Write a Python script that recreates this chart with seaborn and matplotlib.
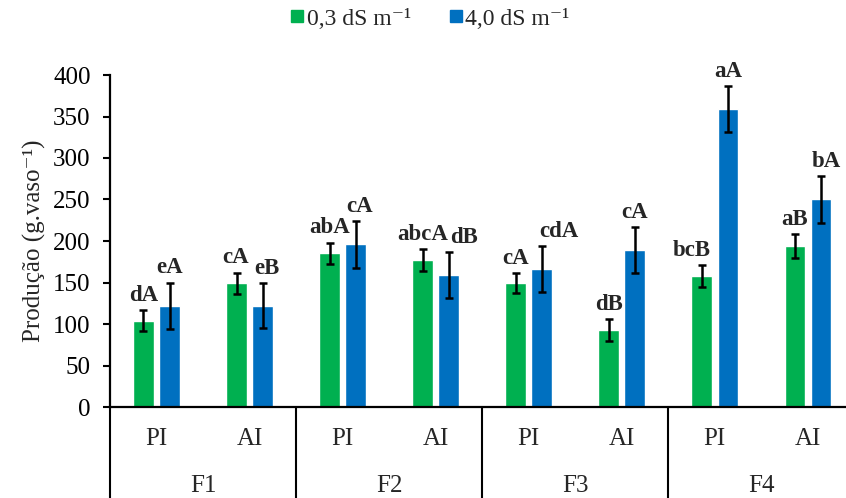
import matplotlib
matplotlib.use("Agg")
import matplotlib.pyplot as plt
from matplotlib.lines import Line2D
import matplotlib.transforms as mtransforms
import seaborn as sns
import pandas as pd

# ---- data ----
factors = ["F1", "F2", "F3", "F4"]
methods = ["PI", "AI"]
series_names = ["0,3 dS m⁻¹", "4,0 dS m⁻¹"]
low_salt = [104, 149, 185, 177, 149, 93, 158, 194]
high_salt = [122, 122, 196, 159, 166, 189, 359, 250]
low_err = [13, 13, 13, 13, 12, 13, 13, 14]
high_err = [28, 27, 28, 28, 28, 28, 28, 28]
low_letters = ["dA", "cA", "abA", "abcA", "cA", "dB", "bcB", "aB"]
high_letters = ["eA", "eB", "cA", "dB", "cdA", "cA", "aA", "bA"]
y_ticks = [0, 50, 100, 150, 200, 250, 300, 350, 400]

cats = [f"{f}-{m}" for f in factors for m in methods]
df = pd.DataFrame({
    "cat": cats * 2,
    "sal": [series_names[0]] * len(cats) + [series_names[1]] * len(cats),
    "val": low_salt + high_salt,
})

GREEN = "#00B050"
BLUE = "#0070C0"

sns.set_style("white")
plt.rcParams["font.family"] = ["Liberation Serif", "DejaVu Serif"]

W, H = 846, 498
fig = plt.figure(figsize=(W / 100, H / 100), dpi=100)
ax_left, ax_bottom_px, ax_top_px = 110, 407, 75
ax = fig.add_axes([ax_left / W, (H - ax_bottom_px) / H, (W - ax_left) / W,
                   (ax_bottom_px - ax_top_px) / H])

sns.barplot(data=df, x="cat", y="val", hue="sal", palette=[GREEN, BLUE],
            width=0.56, gap=0.21, errorbar=None, legend=False, ax=ax,
            saturation=1)

# error bars and letters
label_dx = {  # horizontal nudges in points for crowded labels
    (0, 1): -1, (1, 1): 3, (1, 3): 11, (1, 4): 12, (0, 6): -7, (1, 7): 4, (1, 2): 3,
}
for s, (vals, errs, letters) in enumerate([(low_salt, low_err, low_letters),
                                           (high_salt, high_err, high_letters)]):
    cont = ax.containers[s]
    xs = [p.get_x() + p.get_width() / 2 for p in cont.patches]
    ax.errorbar(xs, vals, yerr=errs, fmt="none", ecolor="black",
                elinewidth=1.8, capsize=2.6, capthick=1.8, zorder=3)
    for i, (x, v, e, t) in enumerate(zip(xs, vals, errs, letters)):
        dx = label_dx.get((s, i), 0)
        ax.annotate(t, (x, v + e), xytext=(dx, 3), textcoords="offset points",
                    ha="center", va="bottom", fontsize=16.5, fontweight="bold")

ax.set_xlim(-0.5, 7.41)
ax.set_ylim(0, 400)
ax.set_yticks(y_ticks)
ax.set_yticklabels([str(t) for t in y_ticks], fontsize=18)
ax.set_xticks([])
ax.set_xlabel("")
ax.set_ylabel("Produção (g.vaso⁻¹)", fontsize=18, labelpad=5)
ax.tick_params(axis="y", direction="out", length=5, width=1.5, pad=9,
               left=True, colors="black")
for side in ["top", "right"]:
    ax.spines[side].set_visible(False)
for side in ["left", "bottom"]:
    ax.spines[side].set_color("black")
    ax.spines[side].set_linewidth(1.6)

# multi-level category axis
trans = mtransforms.blended_transform_factory(ax.transData, ax.transAxes)
ax_h_px = ax_bottom_px - ax_top_px
row1_y = -(439 - ax_bottom_px) / ax_h_px
row2_y = -(486 - ax_bottom_px) / ax_h_px
bottom_y = -(H - ax_bottom_px) / ax_h_px
for i, c in enumerate(cats):
    ax.text(i, row1_y, c.split("-")[1], transform=trans, ha="center",
            va="center", fontsize=18)
for j, f in enumerate(factors):
    ax.text(2 * j + 0.5, row2_y, f, transform=trans, ha="center",
            va="center", fontsize=18)
    ax.plot([2 * j - 0.5, 2 * j - 0.5], [0, bottom_y], transform=trans,
            color="black", lw=1.5, clip_on=False)

# legend
handles = [Line2D([], [], marker="s", linestyle="none", markersize=9,
                  markerfacecolor=c, markeredgecolor=c) for c in (GREEN, BLUE)]
fig.legend(handles, series_names, loc="center", bbox_to_anchor=(430 / W, 1 - 19 / H),
           ncol=2, frameon=False, fontsize=17, handlelength=0.6,
           handletextpad=0.1, columnspacing=1.6)

fig.savefig("out.png", dpi=100)
